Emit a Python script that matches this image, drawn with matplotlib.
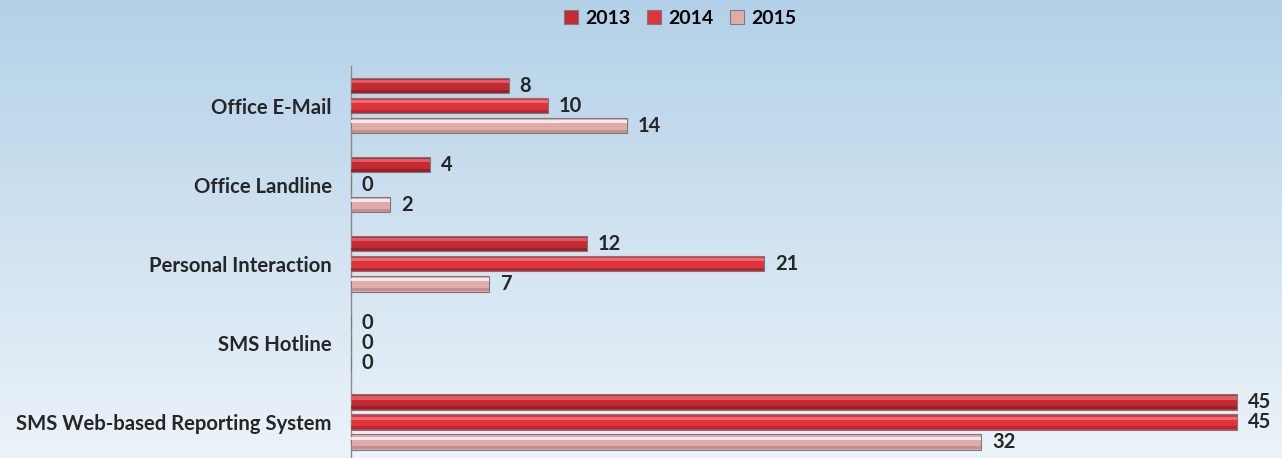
import numpy as np
import matplotlib
matplotlib.use("Agg")
import matplotlib.pyplot as plt
from matplotlib.patches import Patch

categories = ["Office E-Mail", "Office Landline", "Personal Interaction",
              "SMS Hotline", "SMS Web-based Reporting System"]
years = ["2013", "2014", "2015"]
v2013 = [8, 4, 12, 0, 45]
v2014 = [10, 0, 21, 0, 45]
v2015 = [14, 2, 7, 0, 32]
series = [v2013, v2014, v2015]

main_cols = ["#c42a33", "#e0333b", "#e2abab"]
hi_cols = ["#e4666b", "#f2767a", "#fff4f4"]
lo_cols = ["#8f1c23", "#a9242a", "#b88484"]

plt.rcParams['font.family'] = ['Lato', 'DejaVu Sans']
W, H = 1282, 458
fig = plt.figure(figsize=(W / 100, H / 100), dpi=100)

# background gradient
bg = fig.add_axes([0, 0, 1, 1], zorder=-10)
grad = np.linspace(0, 1, 256).reshape(-1, 1)
top = np.array([0xb3, 0xd1, 0xe8]) / 255
bot = np.array([0xec, 0xf3, 0xf9]) / 255
img = top[None, None, :] * (1 - grad[..., None]) + bot[None, None, :] * grad[..., None]
bg.imshow(img, aspect='auto', extent=[0, 1, 0, 1], origin='upper')
bg.axis('off')

ax_left = 351 / W
ax_right = 1.0
ax_top_px = 66
ax = fig.add_axes([ax_left, 0, ax_right - ax_left, (H - ax_top_px) / H])
ax.patch.set_alpha(0)
xmax = (W - 351) / ((1237 - 351) / 45)
ax.set_xlim(0, xmax)
ax.set_ylim(4.456, -0.5)

y = np.arange(len(categories))
step = 0.253
bh = 0.196
for i, vals in enumerate(series):
    yy = y + (i - 1) * step
    vals = np.array(vals, dtype=float)
    ax.barh(yy, vals, height=bh, color=main_cols[i], edgecolor="#7a7a7a",
            linewidth=0.8, zorder=3)
    ax.barh(yy - bh * 0.25, vals, height=bh * 0.2, color=hi_cols[i],
            linewidth=0, zorder=4, alpha=0.85)
    ax.barh(yy + bh * 0.36, vals, height=bh * 0.2, color=lo_cols[i],
            linewidth=0, zorder=4, alpha=0.7)
    for yv, v in zip(yy, vals):
        ax.text(v + 0.55, yv, f"{int(v)}", va='center', ha='left',
                fontsize=14.5, fontweight='bold', color='#262626', zorder=5)

ax.set_yticks(y)
ax.set_yticklabels(categories, fontsize=14.6, fontweight='bold', color='#262626')
ax.tick_params(axis='y', length=0, pad=14)
ax.set_xticks([])
for s in ['top', 'right', 'bottom']:
    ax.spines[s].set_visible(False)
ax.spines['left'].set_color('#8a8a8a')
ax.spines['left'].set_linewidth(1)

handles = [Patch(facecolor=main_cols[i], edgecolor="#7a7a7a", linewidth=0.8) for i in range(3)]
fig.legend(handles, years, loc='center', bbox_to_anchor=(680 / W, 1 - 18 / H), ncol=3,
           frameon=False, prop={'family': 'Lato', 'weight': 'bold', 'size': 14},
           handlelength=0.75, handleheight=0.75, handletextpad=0.35, columnspacing=0.85)

fig.savefig("out.png", dpi=100)
